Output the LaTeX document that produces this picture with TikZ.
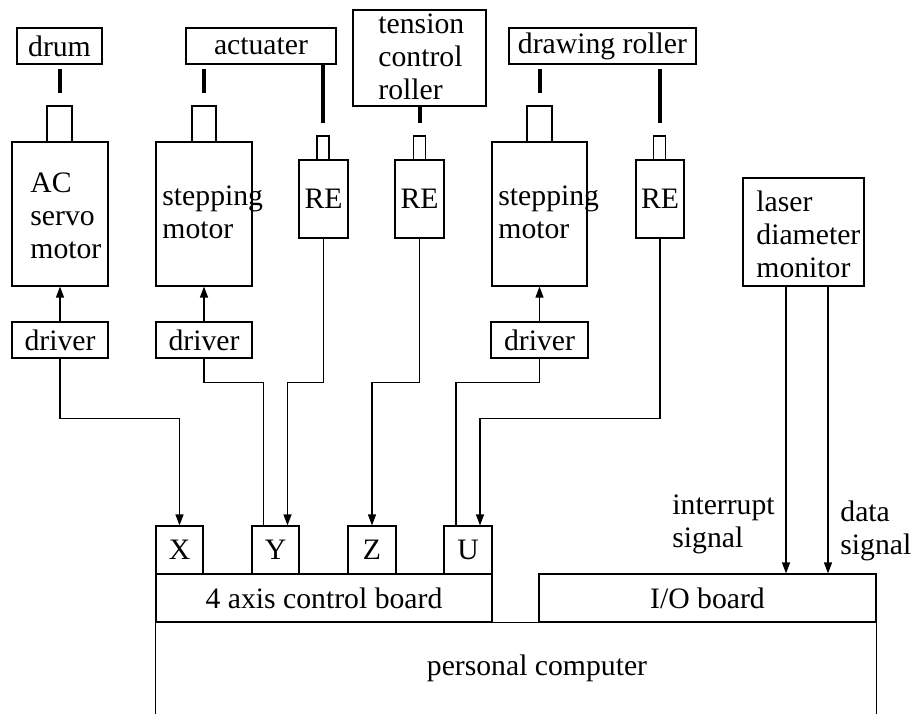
\documentclass[tikz,border=0pt]{standalone}
\usepackage{fontspec}
\setmainfont{Liberation Serif}
\usetikzlibrary{arrows.meta}
\tikzset{
  blk/.style={draw, rectangle, inner sep=0pt, line width=0.6pt},
  bar/.style={line width=2pt},
  sig/.style={line width=0.6pt},
  arr/.style={sig, -{Triangle[length=5.5pt,width=4pt]}},
  lbl/.style={inner sep=0pt, align=left, anchor=west},
}
\begin{document}
\begin{tikzpicture}[x=0.5pt, y=-0.5pt, font=\fontsize{14.85}{16.5}\selectfont]
    \useasboundingbox (0,0) rectangle (914,713);

    % driven parts
    \node[blk, minimum width=42.5pt, minimum height=18pt] (drum) at (59.5,46) {drum};
    \node[blk, minimum width=75pt, minimum height=18pt] (act) at (261,46) {actuater};
    \node[blk, minimum width=66.5pt, minimum height=48pt] (tens) at (419.5,58) {};
    \node[lbl] (tenstxt) at (378,57) {tension\\control\\roller};
    \node[blk, minimum width=93.5pt, minimum height=18pt] (draw) at (602.5,46) {drawing roller};

    % shafts
    \node[blk, minimum width=12.5pt, minimum height=18pt] (sh1) at (59.5,124) {};
    \node[blk, minimum width=12pt, minimum height=18pt] (sh2) at (204,124) {};
    \node[blk, minimum width=12.5pt, minimum height=18pt] (sh3) at (539.5,124) {};
    \node[blk, minimum width=6pt, minimum height=12pt] (shr1) at (323,148) {};
    \node[blk, minimum width=6pt, minimum height=12pt] (shr2) at (419.5,148) {};
    \node[blk, minimum width=6pt, minimum height=12pt] (shr3) at (659.5,148) {};

    \draw[bar] ([yshift=6pt]sh1.north) -- ++(0,-24);
    \draw[bar] ([yshift=6pt]sh2.north) -- ++(0,-24);
    \draw[bar] ([yshift=6pt]shr1.north) -- ++(0,-60);
    \draw[bar] ([yshift=6pt]shr2.north) -- ++(0,-17);
    \draw[bar] ([yshift=6pt]sh3.north) -- ++(0,-24);
    \draw[bar] ([yshift=6pt]shr3.north) -- ++(0,-54);

    % motors and encoders
    \node[blk, minimum width=48pt, minimum height=72pt] (acm) at (60,214) {};
    \node[lbl] (acmtxt) at (30,216) {AC\\servo\\motor};
    \node[blk, minimum width=48pt, minimum height=72pt] (sm1) at (204,214) {};
    \node[lbl] (sm1txt) at (162,212) {stepping\\motor};
    \node[blk, minimum width=47.5pt, minimum height=72pt] (sm2) at (539.5,214) {};
    \node[lbl] (sm2txt) at (498,212) {stepping\\motor};
    \node[blk, minimum width=24.5pt, minimum height=39pt] (re1) at (323.5,199) {RE};
    \node[blk, minimum width=24.5pt, minimum height=39pt] (re2) at (419.5,199) {RE};
    \node[blk, minimum width=24pt, minimum height=39pt] (re3) at (660,199) {RE};
    \node[blk, minimum width=60.5pt, minimum height=54pt] (laser) at (803.5,232) {};
    \node[lbl] (lasertxt) at (756,234) {laser\\diameter\\monitor};

    % drivers
    \node[blk, minimum width=48pt, minimum height=18pt] (drvA) at (60,340) {driver};
    \node[blk, minimum width=48pt, minimum height=18pt] (drvB) at (204,340) {driver};
    \node[blk, minimum width=48.5pt, minimum height=18pt] (drvC) at (539.5,340) {driver};

    \draw[arr] (drvA.north) -- (acm.south);
    \draw[arr] (drvB.north) -- (sm1.south);
    \draw[arr] (drvC.north) -- (sm2.south);

    % boards
    \node[blk, minimum width=23.5pt, minimum height=24pt] (X) at (179.5,550) {X};
    \node[blk, minimum width=23.5pt, minimum height=24pt] (Y) at (275.5,550) {Y};
    \node[blk, minimum width=24pt, minimum height=24pt] (Z) at (372,550) {Z};
    \node[blk, minimum width=24pt, minimum height=24pt] (U) at (468,550) {U};
    \node[blk, minimum width=168pt, minimum height=24pt] (board) at (324,598) {4 axis control board};
    \node[blk, minimum width=168.5pt, minimum height=24pt] (io) at (707.5,598) {I/O board};
    \draw[sig] (board.south west) -- ++(0,91);
    \draw[sig] (board.south west) -- (io.south east) -- ++(0,91);
    \node (pc) at (537,668) {personal computer};

    % wiring
    \draw[arr] (drvA.south) -- ++(0,60) -| (X.north);
    \draw[sig] (drvB.south) -- ++(0,24) -| ([xshift=-6pt]Y.north);
    \draw[arr] (re1.south) -- ++(0,144) -| ([xshift=6pt]Y.north);
    \draw[arr] (re2.south) -- ++(0,144) -| (Z.north);
    \draw[sig] (drvC.south) -- ++(0,24) -| ([xshift=-6pt]U.north);
    \draw[arr] (re3.south) -- ++(0,180) -| ([xshift=6pt]U.north);

    \coordinate (irq) at ([xshift=-8.75pt]laser.south);
    \coordinate (dat) at ([xshift=12.25pt]laser.south);
    \draw[arr] (irq) -- (irq |- io.north);
    \draw[arr] (dat) -- (dat |- io.north);
    \node[lbl] (irqtxt) at (672,524) {interrupt\\signal};
    \node[lbl] (dattxt) at (840,531) {data\\signal};
\end{tikzpicture}
\end{document}
